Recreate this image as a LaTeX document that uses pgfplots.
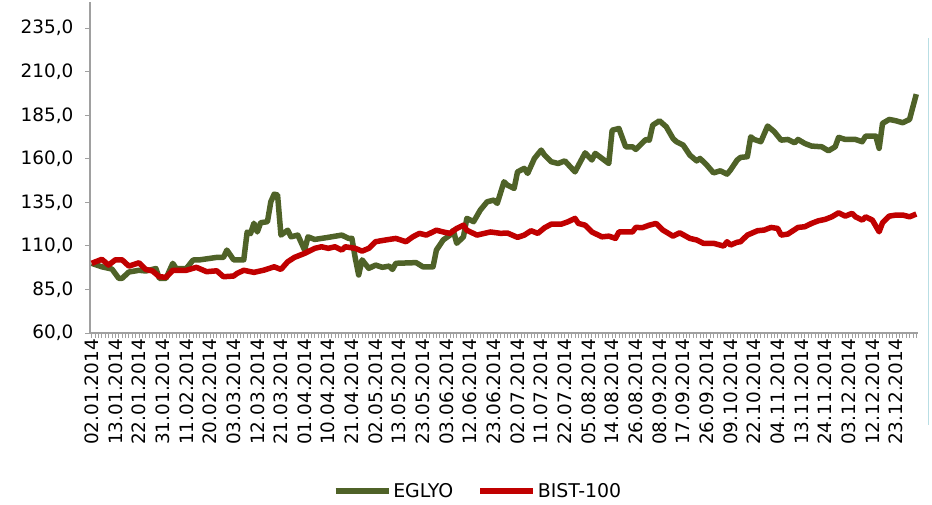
\documentclass[border=0pt]{standalone}
\usepackage{pgfplots}
\pgfplotsset{compat=1.18}
\usepackage{pgfplotstable}
\usepackage{fontspec}
\setmainfont{DejaVu Sans}
\definecolor{eglyo}{RGB}{79,98,40}
\definecolor{bist}{RGB}{192,0,0}
\definecolor{axgray}{RGB}{160,160,160}
\definecolor{edgeblue}{RGB}{185,222,228}

\pgfplotstableread{
i v
0 100
3 98
6 96.7
8 91.4
9 91.4
11 95
14 96
16 95.6
19 97
20 91.4
22 91.4
24 100
25 97
28 97
30 101.9
32 102
37 103.4
39 103.4
40 107.6
42 102
45 102
46 118
47 117
48 123
49 118
50 123.3
52 123.9
53 135.3
54 139.7
55 139.2
56 116.2
58 119
59 115.2
61 116.2
63 107.6
64 115.2
66 113.7
70 114.9
74 116.2
76 114.3
77 114.3
78 102.9
79 93.3
80 102
82 97.1
84 99
86 97.7
88 98.4
89 96.5
90 100
96 100.4
98 98
101 98
102 107.6
104 113.4
106 116.2
107 119
108 111.5
110 115.2
111 125.8
113 123.9
115 130.6
117 135.3
119 136.3
120 134.4
122 146.8
123 144.9
125 143
126 152.5
128 154.5
129 151.6
131 160.2
133 165
134 162.1
136 158.3
138 157.3
140 158.8
143 152.5
146 163.4
148 159.3
149 163.1
153 157.3
154 176.4
156 177.4
158 166.9
160 166.9
161 165.4
164 171.1
165 170.7
166 179.3
168 181.8
170 178.4
172 171.7
173 169.8
175 167.9
177 162.1
179 158.8
180 160.2
182 156.4
184 151.9
186 153.1
188 151.2
189 153.5
191 159.3
192 160.8
194 161.2
195 172.6
196 171.1
198 169.8
200 178.8
202 175.5
204 170.7
206 171.1
208 169.2
209 171.1
211 168.8
213 167.3
216 166.9
218 164.6
220 166.9
221 172.3
223 171.1
226 171.1
228 169.8
229 173
232 173
233 166
234 180.3
236 182.6
238 181.8
240 180.7
242 182.6
243 189.9
244 197.1
}\eglyodata

\pgfplotstableread{
i v
0 100
3 102.3
5 99
7 102
9 102
11 98.4
14 100.3
16 96.5
18 95.6
20 92.3
22 92
24 96
28 96
31 97.7
34 95.2
37 95.7
39 92.3
42 92.7
43 94.2
45 96
48 94.8
51 96.1
54 98
56 96.5
58 100.9
60 103.4
63 105.7
66 108.6
68 109.5
70 108.6
72 109.5
74 107.6
75 109.5
78 108.6
80 107
82 108.6
84 112.4
87 113.4
90 114.3
93 112.4
95 115.2
97 117.2
99 116.2
102 119
104 118
106 117.2
108 120
110 121.9
111 119
114 116.2
118 118
121 117.2
123 117.4
126 114.9
128 116.2
130 118.7
132 117.2
134 120.4
136 122.5
139 122.5
141 123.9
143 125.8
144 122.9
146 121.9
148 118
151 115.2
153 115.6
155 114.3
156 118
160 118
161 120.6
163 120.5
165 121.9
167 122.9
169 119.1
172 115.6
174 117.5
177 114.3
179 113.4
181 111.5
184 111.5
187 109.9
188 112.4
189 110.5
191 112.1
192 112.4
194 116.2
197 118.7
199 119.1
201 120.6
203 120
204 116.2
206 116.8
209 120.6
211 121
213 122.9
215 124.4
217 125.2
219 126.7
221 129
223 127.1
225 128.7
226 126.7
228 124.8
229 126.7
231 124.8
233 118.1
234 123.3
236 127.1
238 127.7
240 127.7
242 126.7
244 128.3
}\bistdata

\begin{document}
\begin{tikzpicture}
\path[use as bounding box] (0,0) rectangle (932bp,505bp);
\draw[edgeblue, line width=1.6bp] (928.5bp,80bp) -- (928.5bp,467bp);
\begin{axis}[
  at={(90bp,172bp)}, anchor=south west,
  scale only axis, width=828bp, height=331bp,
  xmin=-0.5, xmax=244.5, ymin=60, ymax=250,
  axis x line*=bottom, axis y line*=left,
  axis line style={axgray, line width=1.6bp},
  xtick={0,7,...,238},
  minor xtick={0,1,...,244},
  xticklabels={02.01.2014,13.01.2014,22.01.2014,31.01.2014,11.02.2014,20.02.2014,03.03.2014,12.03.2014,21.03.2014,01.04.2014,10.04.2014,21.04.2014,02.05.2014,13.05.2014,23.05.2014,03.06.2014,12.06.2014,23.06.2014,02.07.2014,11.07.2014,22.07.2014,05.08.2014,14.08.2014,26.08.2014,08.09.2014,17.09.2014,26.09.2014,09.10.2014,22.10.2014,04.11.2014,13.11.2014,24.11.2014,03.12.2014,12.12.2014,23.12.2014},
  x tick label style={rotate=90, anchor=east, font=\fontsize{18.5}{20}\selectfont, inner sep=1bp},
  ytick={60,85,...,235},
  y tick label style={font=\fontsize{18.5}{20}\selectfont, xshift=-8bp},
  yticklabel style={/pgf/number format/.cd, fixed, fixed zerofill, precision=1, use comma, assume math mode=true},
  tick align=outside,
  major tick length=5bp, minor tick length=5bp,
  every tick/.style={axgray, line width=0.8bp},
  x tick style={axgray, line width=0.8bp},
  legend style={at={(0.4686,-0.477)}, anchor=center, draw=none, fill=none,
    font=\fontsize{19}{20}\selectfont, legend columns=2,
    /tikz/every even column/.append style={column sep=22bp}},
  legend image code/.code={\draw[#1, line width=5.5bp] (0bp,0bp) -- (53bp,0bp);},
  clip=false,
]
\addplot[eglyo, line width=5.5bp, line join=round] table[x=i, y=v] {\eglyodata};
\addlegendentry{EGLYO}
\addplot[bist, line width=5.5bp, line join=round] table[x=i, y=v] {\bistdata};
\addlegendentry{BIST-100}
\end{axis}
\end{tikzpicture}
\end{document}
